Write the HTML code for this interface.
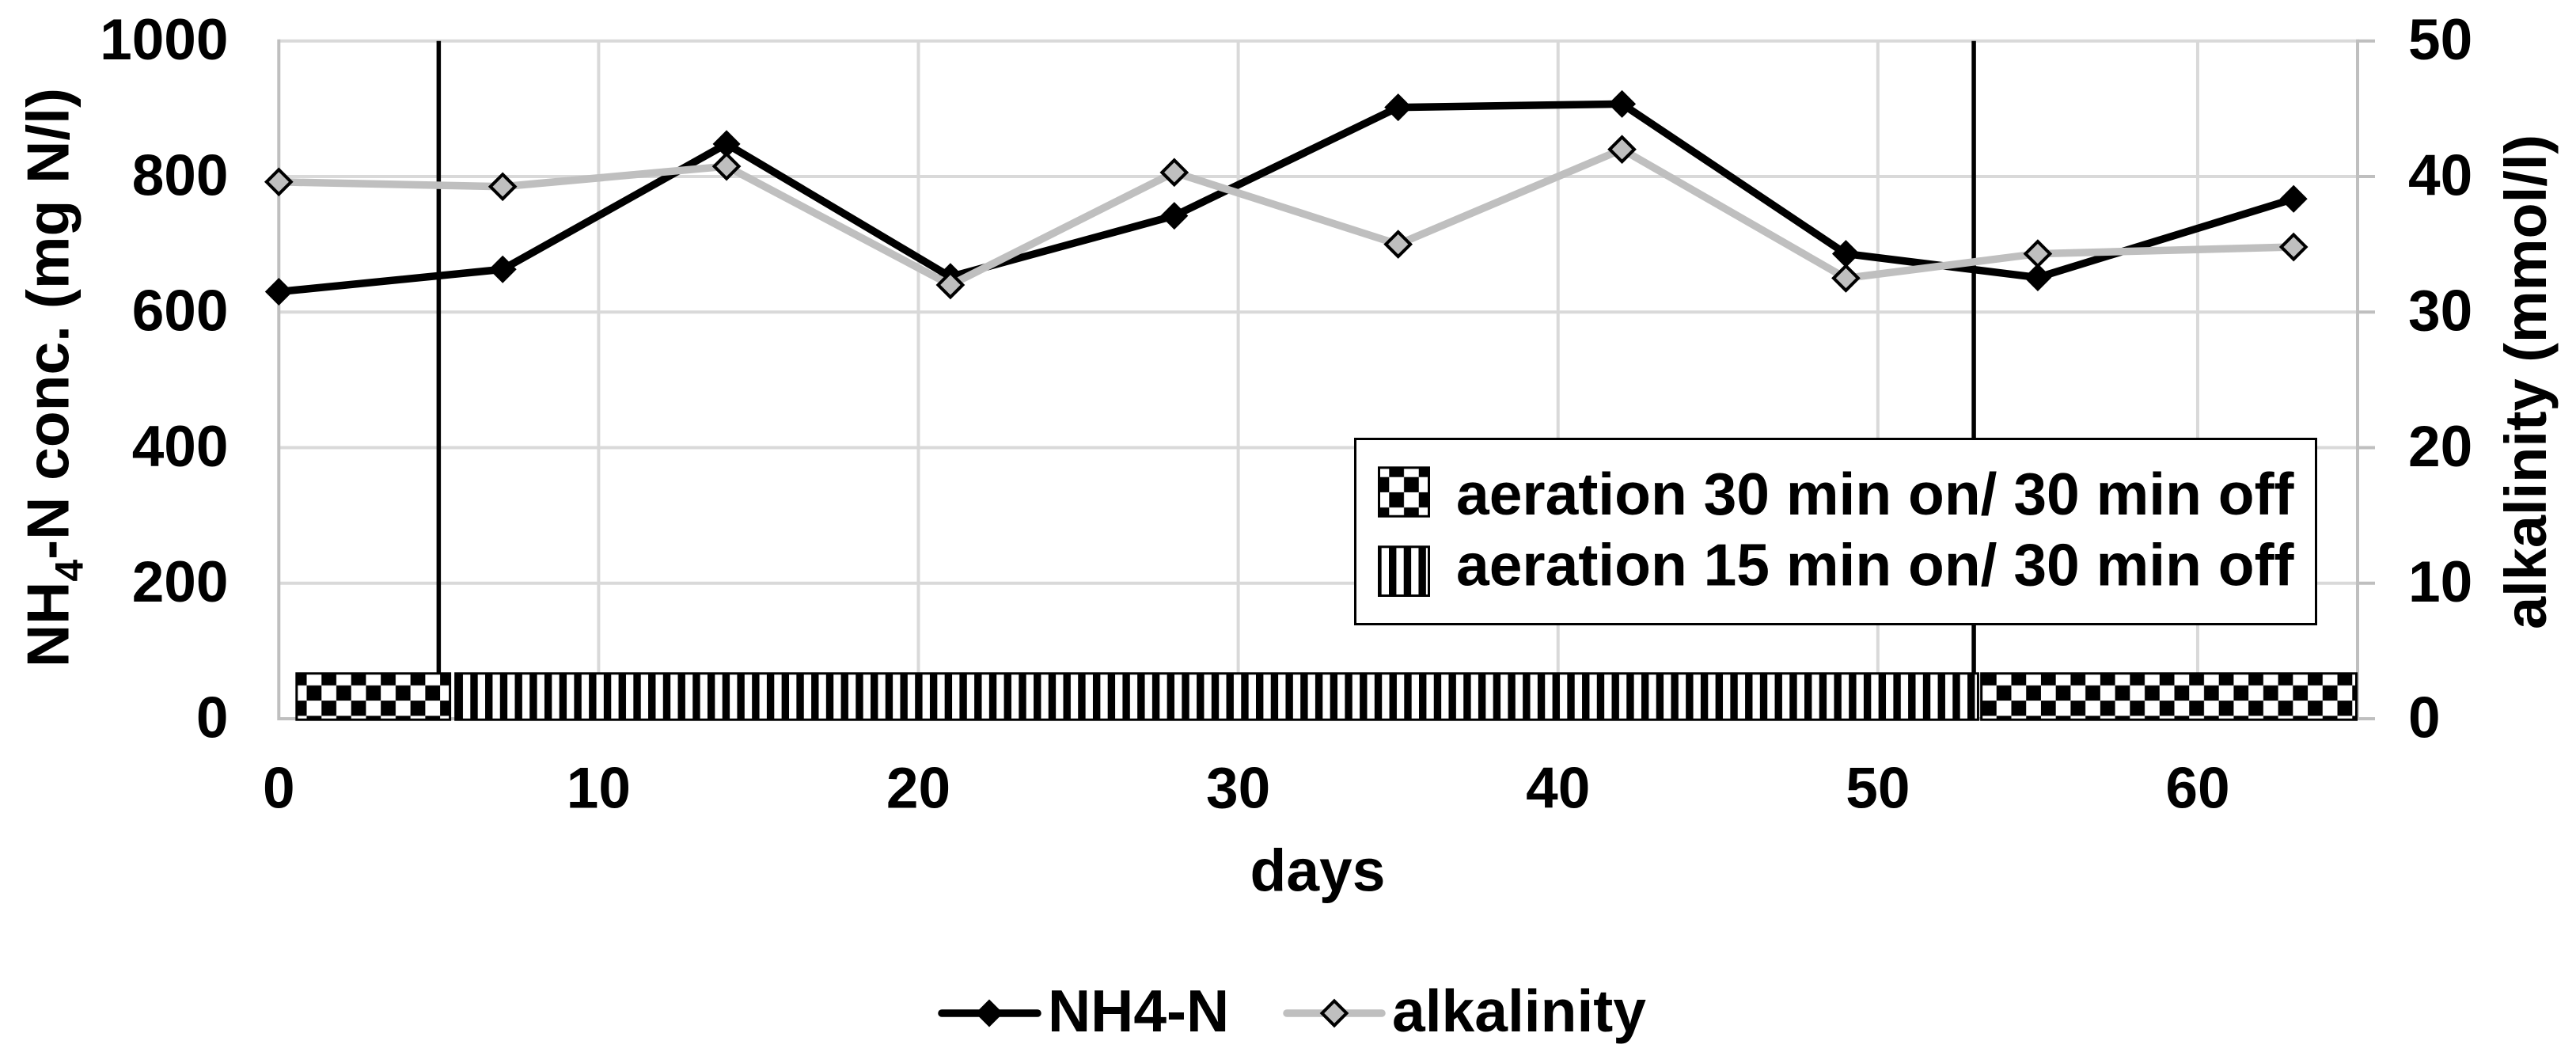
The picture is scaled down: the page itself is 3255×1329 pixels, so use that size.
<!DOCTYPE html>
<html lang="en">
<head>
<meta charset="utf-8">
<title>NH4-N and alkalinity over time</title>
<style>
html,body{margin:0;padding:0;background:#fff;}
svg{display:block;font-family:"Liberation Sans",Arial,sans-serif;font-weight:700;fill:#000;}
text{font-size:75px;}
#ticks text{font-size:73px;}
</style>
</head>
<body>
<svg id="chart" xmlns="http://www.w3.org/2000/svg" width="3255" height="1329" viewBox="0 0 3255 1329">
  <defs>
    <pattern id="checker-bar" patternUnits="userSpaceOnUse" x="368.8" y="846.7" width="37.46" height="38.4">
      <rect width="37.46" height="38.4" fill="#fff"/>
      <rect width="18.73" height="19.2" fill="#000"/>
      <rect x="18.73" y="19.2" width="18.73" height="19.2" fill="#000"/>
    </pattern>
    <pattern id="checker-swatch" patternUnits="userSpaceOnUse" x="1755.3" y="583.5" width="37.46" height="38.4">
      <rect width="37.46" height="38.4" fill="#fff"/>
      <rect width="18.73" height="19.2" fill="#000"/>
      <rect x="18.73" y="19.2" width="18.73" height="19.2" fill="#000"/>
    </pattern>
    <pattern id="stripe-bar" patternUnits="userSpaceOnUse" x="594.3" y="0" width="18.73" height="20">
      <rect width="18.73" height="20" fill="#fff"/>
      <rect width="9.4" height="20" fill="#000"/>
    </pattern>
    <pattern id="stripe-swatch" patternUnits="userSpaceOnUse" x="1755" y="0" width="18.73" height="20">
      <rect width="18.73" height="20" fill="#fff"/>
      <rect width="9.4" height="20" fill="#000"/>
    </pattern>
  </defs>
  <rect width="3255" height="1329" fill="#fff"/>
  <g id="grid"></g>
  <g id="phase-lines"></g>
  <g id="series"></g>
  <g id="phase-bars"></g>
  <g id="ticks"></g>

  <text transform="translate(86.5,843) rotate(-90)">NH<tspan dy="18" style="font-size:50px">4</tspan><tspan dy="-18">-N conc. (mg N/l)</tspan></text>
  <text transform="translate(3217,795) rotate(-90)" style="font-size:74px">alkalinity (mmol/l)</text>
  <text x="1665" y="1125.5" text-anchor="middle">days</text>

  <g>
    <rect x="1712.5" y="554.5" width="1214" height="234" fill="#fff" stroke="#000" stroke-width="3"/>
    <rect x="1742.5" y="590.8" width="63" height="61.4" fill="url(#checker-swatch)" stroke="#000" stroke-width="3"/>
    <text x="1840" y="650">aeration 30 min on/ 30 min off</text>
    <rect x="1742.5" y="690.8" width="63" height="61.7" fill="url(#stripe-swatch)" stroke="#000" stroke-width="3"/>
    <text x="1840" y="739.5">aeration 15 min on/ 30 min off</text>
  </g>

  <g>
    <line x1="1190" y1="1280" x2="1311" y2="1280" stroke="#000" stroke-width="9.5" stroke-linecap="round"/>
    <path d="M1250 1262.5L1267.5 1280L1250 1297.5L1232.5 1280Z" fill="#000"/>
    <text x="1324" y="1303">NH4-N</text>
    <line x1="1626" y1="1280" x2="1746" y2="1280" stroke="#bfbfbf" stroke-width="9.5" stroke-linecap="round"/>
    <path d="M1686 1264.5L1701.5 1280L1686 1295.5L1670.5 1280Z" fill="#bfbfbf" stroke="#000" stroke-width="4"/>
    <text x="1759" y="1303">alkalinity</text>
  </g>
</svg>

<script>
var days = [0, 7, 14, 21, 28, 35, 42, 49, 55, 63];
var nh4Values = [630, 663, 848, 652, 742, 902, 907, 686, 651, 767];
var alkalinityValues = [39.6, 39.25, 40.75, 32, 40.3, 35, 42, 32.5, 34.3, 34.8];
var xTickLabels = [0, 10, 20, 30, 40, 50, 60];
var leftTickLabels = [0, 200, 400, 600, 800, 1000];
var rightTickLabels = [0, 10, 20, 30, 40, 50];
var phaseLineDays = [5, 53];
var phaseStartDays = [0.52, 5.49, 53.2];
var phaseEndDays = [5.39, 53.17, 65];
var phaseKinds = ['checker', 'stripe', 'checker'];

var PLOT_LEFT = 352.3, PLOT_RIGHT = 2979, PLOT_TOP = 51.7, PLOT_BOTTOM = 908;
var X_MAX = 65, LEFT_MAX = 1000, RIGHT_MAX = 50;
var NS = 'http://www.w3.org/2000/svg';

function xScale(d) { return PLOT_LEFT + (PLOT_RIGHT - PLOT_LEFT) * d / X_MAX; }
function yLeft(v) { return PLOT_BOTTOM - (PLOT_BOTTOM - PLOT_TOP) * v / LEFT_MAX; }
function yRight(v) { return PLOT_BOTTOM - (PLOT_BOTTOM - PLOT_TOP) * v / RIGHT_MAX; }

function make(parentId, tag, attrs) {
  var el = document.createElementNS(NS, tag);
  for (var k in attrs) { el.setAttribute(k, attrs[k]); }
  document.getElementById(parentId).appendChild(el);
  return el;
}
function diamond(cx, cy, r) {
  return 'M' + cx + ' ' + (cy - r) + 'L' + (cx + r) + ' ' + cy + 'L' + cx + ' ' + (cy + r) + 'L' + (cx - r) + ' ' + cy + 'Z';
}

/* vertical gridlines */
xTickLabels.forEach(function (t) {
  if (t === 0) { return; }
  var el = make('grid', 'line', { x1: xScale(t), x2: xScale(t), y1: PLOT_TOP, y2: PLOT_BOTTOM, stroke: '#d9d9d9', 'stroke-width': 4 });
  
  
});

/* horizontal gridlines and right-hand tick stubs */
leftTickLabels.forEach(function (t) {
  var y = yLeft(t);
  var el = make('grid', 'line', { x1: PLOT_LEFT, x2: PLOT_RIGHT, y1: y, y2: y, stroke: t === 0 ? '#bfbfbf' : '#d9d9d9', 'stroke-width': 4 });
  
  
  var stub = make('grid', 'line', { x1: PLOT_RIGHT, x2: PLOT_RIGHT + 22, y1: y, y2: y, stroke: '#bfbfbf', 'stroke-width': 4 });
  
  
});

/* axis lines */
var leftAxis = make('grid', 'line', { x1: PLOT_LEFT, x2: PLOT_LEFT, y1: PLOT_TOP - 2, y2: PLOT_BOTTOM + 2, stroke: '#bfbfbf', 'stroke-width': 4 });


var rightAxis = make('grid', 'line', { x1: PLOT_RIGHT, x2: PLOT_RIGHT, y1: PLOT_TOP - 2, y2: PLOT_BOTTOM + 2, stroke: '#bfbfbf', 'stroke-width': 4 });



/* phase-change vertical lines */
phaseLineDays.forEach(function (d) {
  var el = make('phase-lines', 'line', { x1: xScale(d), x2: xScale(d), y1: PLOT_TOP, y2: 850, stroke: '#000', 'stroke-width': 5.5 });
  
  
});

/* series */
function drawSeries(name, values, yFn, color, lineWidth, markerRadius, markerStroke) {
  var pts = days.map(function (d, i) { return xScale(d) + ',' + yFn(values[i]); }).join(' ');
  var line = make('series', 'polyline', { points: pts, fill: 'none', stroke: color, 'stroke-width': lineWidth, 'stroke-linejoin': 'round' });
  
  
  days.forEach(function (d, i) {
    var m = make('series', 'path', { d: diamond(xScale(d), yFn(values[i]), markerRadius), fill: color });
    if (markerStroke) {
      m.setAttribute('stroke', markerStroke);
      m.setAttribute('stroke-width', 4);
    }
    
    
  });
}
drawSeries('nh4-n', nh4Values, yLeft, '#000', 9.5, 17.5, null);
drawSeries('alkalinity', alkalinityValues, yRight, '#bfbfbf', 9.5, 15.5, '#000');

/* aeration phase bars */
phaseKinds.forEach(function (kind, i) {
  var x0 = xScale(phaseStartDays[i]);
  var x1 = xScale(phaseEndDays[i]);
  var el = make('phase-bars', 'rect', { x: x0 + 1.5, y: 850.8, width: x1 - x0 - 3, height: 58.4, fill: 'url(#' + kind + '-bar)', stroke: '#000', 'stroke-width': 3 });
  
  
});

/* tick labels */
xTickLabels.forEach(function (t) {
  var el = make('ticks', 'text', { x: xScale(t), y: 1020.5, 'text-anchor': 'middle' });
  el.textContent = t;
  
  
});
leftTickLabels.forEach(function (t) {
  var el = make('ticks', 'text', { x: 288.5, y: yLeft(t) + 23.5, 'text-anchor': 'end' });
  el.textContent = t;
  
  
});
rightTickLabels.forEach(function (t) {
  var el = make('ticks', 'text', { x: 3043, y: yRight(t) + 23.5, 'text-anchor': 'start' });
  el.textContent = t;
  
  
});
</script>
</body>
</html>
